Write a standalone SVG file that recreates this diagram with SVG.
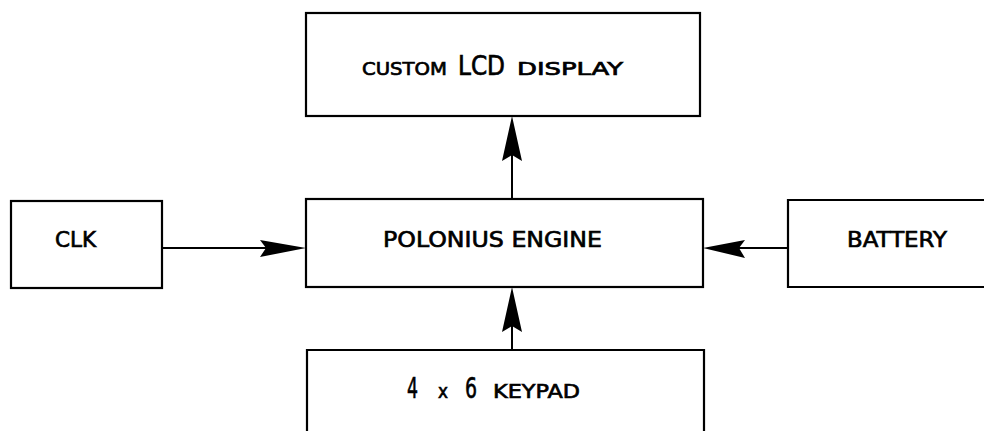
<svg xmlns="http://www.w3.org/2000/svg" width="984" height="431" viewBox="0 0 984 431">
<style>
.box{fill:none;stroke:#000;stroke-width:2.2;stroke-linecap:square}
.ln{stroke:#000;stroke-width:2;fill:none}
.head{fill:#000;stroke:none}
text{font-family:"DejaVu Sans","Liberation Sans",sans-serif;fill:#000;stroke:#000;stroke-width:0.7}
</style>
<rect width="984" height="431" fill="#fff"/>
<g id="lcd">
<rect class="box" x="306" y="13" width="394" height="103"/>
<text x="362" y="75" font-size="18" textLength="85" lengthAdjust="spacingAndGlyphs">CUSTOM</text>
<text x="458" y="75" font-size="26" textLength="47" lengthAdjust="spacingAndGlyphs">LCD</text>
<text x="517" y="75" font-size="18" textLength="106" lengthAdjust="spacingAndGlyphs">DISPLAY</text>
</g>
<g id="clk">
<rect class="box" x="11" y="201" width="151" height="87"/>
<text x="55" y="247" font-size="22" textLength="41" lengthAdjust="spacingAndGlyphs">CLK</text>
</g>
<g id="engine">
<rect class="box" x="306" y="199" width="397" height="88"/>
<text x="383" y="247" font-size="22" textLength="219" lengthAdjust="spacingAndGlyphs">POLONIUS ENGINE</text>
</g>
<g id="battery">
<path class="box" d="M986 200 H788 V287 H986"/>
<text x="847" y="247" font-size="22" textLength="100" lengthAdjust="spacingAndGlyphs">BATTERY</text>
</g>
<g id="keypad">
<path class="box" d="M307 433 V350 H704 V433"/>
<text x="407" y="398" font-size="29" textLength="11" lengthAdjust="spacingAndGlyphs">4</text>
<text x="438" y="398" font-size="19" textLength="10" lengthAdjust="spacingAndGlyphs">x</text>
<text x="465" y="398" font-size="29" textLength="12" lengthAdjust="spacingAndGlyphs">6</text>
<text x="493" y="398" font-size="20" textLength="87" lengthAdjust="spacingAndGlyphs">KEYPAD</text>
</g>
<g id="connectors">
<line class="ln" x1="512" y1="199" x2="512" y2="140"/>
<path class="head" d="M512 116 L522 161 L512 155 L502 161 Z"/>
<line class="ln" x1="512" y1="350" x2="512" y2="310"/>
<path class="head" d="M512 287 L522 332 L512 326 L502 332 Z"/>
<line class="ln" x1="162" y1="248" x2="280" y2="248"/>
<path class="head" d="M306 248 L260 240 L266 248 L260 257 Z"/>
<line class="ln" x1="788" y1="248" x2="730" y2="248"/>
<path class="head" d="M703 248 L745 240 L739 248 L745 258 Z"/>
</g>
</svg>
